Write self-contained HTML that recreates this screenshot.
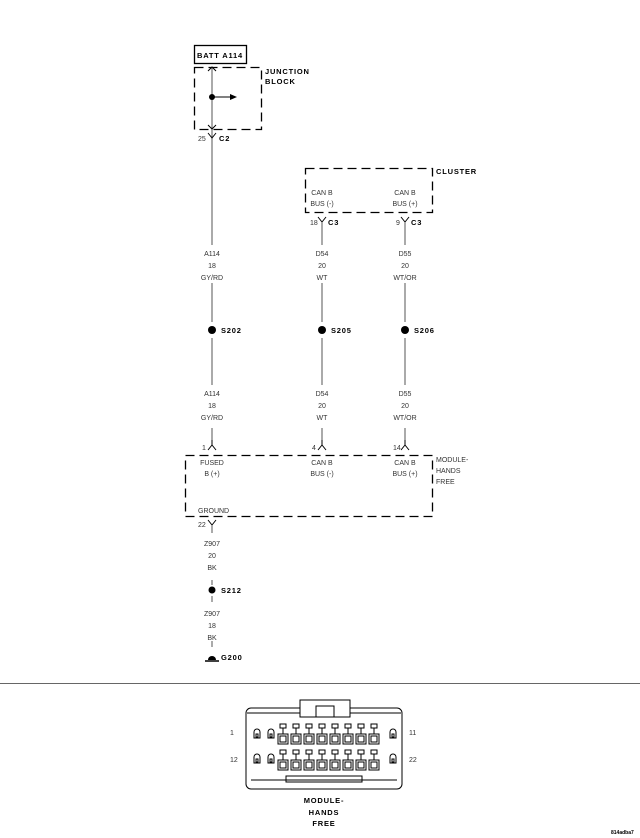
<!DOCTYPE html>
<html><head><meta charset="utf-8"><style>
html,body{margin:0;padding:0;background:#fff;}
svg{display:block;}
text{font-family:"Liberation Sans",sans-serif;}
.s{font-size:7px;fill:#333;}
.b{font-size:7.5px;font-weight:bold;fill:#000;letter-spacing:0.8px;}
</style></head><body>
<svg width="640" height="838" viewBox="0 0 640 838" xmlns="http://www.w3.org/2000/svg">
<g stroke="#000" fill="none" stroke-width="1">
<!-- BATT box -->
<rect x="194.5" y="45.5" width="52" height="18" stroke-width="1.3"/>
<!-- junction block -->
<rect x="194.5" y="67.5" width="67" height="62" stroke-dasharray="9,5" stroke-width="1.3"/>
<line x1="212" y1="67" x2="212" y2="245" stroke="#555"/>
<path d="M208,71 L212,67 L216,71" />
<path d="M208,125 L212,129 L216,125" />
<line x1="212" y1="97" x2="230" y2="97"/>
<!-- C2 Y -->
<path d="M208,133 L212,138 L216,133"/>
<!-- cluster -->
<rect x="305.5" y="168.5" width="127" height="44" stroke-dasharray="9,5" stroke-width="1.3"/>
<path d="M318,217 L322,222 L326,217"/><line x1="322" y1="222" x2="322" y2="245" stroke="#555"/>
<path d="M401,217 L405,222 L409,217"/><line x1="405" y1="222" x2="405" y2="245" stroke="#555"/>
<!-- mid wires -->
<g stroke="#555">
<line x1="212" y1="283" x2="212" y2="322"/><line x1="212" y1="338" x2="212" y2="385"/><line x1="212" y1="428" x2="212" y2="440"/>
<line x1="322" y1="283" x2="322" y2="322"/><line x1="322" y1="338" x2="322" y2="385"/><line x1="322" y1="428" x2="322" y2="440"/>
<line x1="405" y1="283" x2="405" y2="322"/><line x1="405" y1="338" x2="405" y2="385"/><line x1="405" y1="428" x2="405" y2="440"/>
</g>
<path d="M208,450 L212,445 L216,450"/><line x1="212" y1="445" x2="212" y2="440"/>
<path d="M318,450 L322,445 L326,450"/><line x1="322" y1="445" x2="322" y2="440"/>
<path d="M401,450 L405,445 L409,450"/><line x1="405" y1="445" x2="405" y2="440"/>
<!-- module -->
<rect x="185.5" y="455.5" width="247" height="61" stroke-dasharray="9,5" stroke-width="1.3"/>
<path d="M208,520 L212,525 L216,520"/><line x1="212" y1="525" x2="212" y2="533" stroke="#555"/>
<line x1="212" y1="580" x2="212" y2="585" stroke="#555"/>
<line x1="212" y1="596" x2="212" y2="602" stroke="#555"/>
<line x1="212" y1="641" x2="212" y2="647" stroke="#555"/>
<line x1="205" y1="661" x2="219" y2="661" stroke-width="1.5"/>
<!-- separator -->
<line x1="0" y1="683.5" x2="640" y2="683.5" stroke="#666"/>
</g>
<polygon points="230,94 237,97 230,100" fill="#000"/>
<g fill="#000">
<circle cx="212" cy="97" r="3"/>
<circle cx="212" cy="330" r="4"/><circle cx="322" cy="330" r="4"/><circle cx="405" cy="330" r="4"/>
<circle cx="212" cy="590" r="3.5"/>
<path d="M208,660 A4,4 0 0 1 216,660 Z"/>
</g>
<!-- labels -->
<text class="b" x="197" y="58">BATT A114</text>
<text class="b" x="265" y="74">JUNCTION</text>
<text class="b" x="265" y="84">BLOCK</text>
<text class="s" x="198" y="141">25</text><text class="b" x="219" y="141">C2</text>
<text class="b" x="436" y="174">CLUSTER</text>
<g class="s" text-anchor="middle">
<text x="322" y="195">CAN B</text><text x="322" y="206">BUS (-)</text>
<text x="405" y="195">CAN B</text><text x="405" y="206">BUS (+)</text>
<text x="212" y="256">A114</text><text x="212" y="268">18</text><text x="212" y="280">GY/RD</text>
<text x="322" y="256">D54</text><text x="322" y="268">20</text><text x="322" y="280">WT</text>
<text x="405" y="256">D55</text><text x="405" y="268">20</text><text x="405" y="280">WT/OR</text>
<text x="212" y="396">A114</text><text x="212" y="408">18</text><text x="212" y="420">GY/RD</text>
<text x="322" y="396">D54</text><text x="322" y="408">20</text><text x="322" y="420">WT</text>
<text x="405" y="396">D55</text><text x="405" y="408">20</text><text x="405" y="420">WT/OR</text>
<text x="212" y="465">FUSED</text><text x="212" y="476">B (+)</text>
<text x="322" y="465">CAN B</text><text x="322" y="476">BUS (-)</text>
<text x="405" y="465">CAN B</text><text x="405" y="476">BUS (+)</text>
<text x="212" y="546">Z907</text><text x="212" y="558">20</text><text x="212" y="570">BK</text>
<text x="212" y="616">Z907</text><text x="212" y="628">18</text><text x="212" y="640">BK</text>
</g>
<text class="s" x="310" y="225">18</text><text class="b" x="328" y="225">C3</text>
<text class="s" x="396" y="225">9</text><text class="b" x="411" y="225">C3</text>
<text class="b" x="221" y="333">S202</text><text class="b" x="331" y="333">S205</text><text class="b" x="414" y="333">S206</text>
<text class="s" x="202" y="450">1</text><text class="s" x="312" y="450">4</text><text class="s" x="393" y="450">14</text>
<text class="s" x="436" y="462">MODULE-</text><text class="s" x="436" y="473">HANDS</text><text class="s" x="436" y="484">FREE</text>
<text class="s" x="198" y="513">GROUND</text>
<text class="s" x="198" y="527">22</text>
<text class="b" x="221" y="593">S212</text>
<text class="b" x="221" y="660">G200</text>
<!-- connector -->
<g stroke="#000" fill="none" stroke-width="1">
<rect x="246" y="708" width="156" height="81" rx="5"/>
<line x1="247" y1="713" x2="401" y2="713"/>
<rect x="300" y="700" width="50" height="17" fill="#fff"/>
<rect x="316" y="706" width="18" height="11"/>
<line x1="251" y1="780" x2="397" y2="780"/>
<rect x="286" y="776" width="76" height="6"/>
<g id="row">
<rect x="278" y="734" width="10" height="10"/><rect x="280" y="736" width="6" height="6"/><rect x="280" y="724" width="6" height="4"/><line x1="283" y1="728" x2="283" y2="734"/>
</g>
<use href="#row" x="13"/><use href="#row" x="26"/><use href="#row" x="39"/><use href="#row" x="52"/><use href="#row" x="65"/><use href="#row" x="78"/><use href="#row" x="91"/>
<use href="#row" y="26"/><use href="#row" x="13" y="26"/><use href="#row" x="26" y="26"/><use href="#row" x="39" y="26"/><use href="#row" x="52" y="26"/><use href="#row" x="65" y="26"/><use href="#row" x="78" y="26"/><use href="#row" x="91" y="26"/>
<g id="sp"><path d="M254,738 v-6 a3,3 0 0 1 6,0 v6 z"/><rect x="256" y="734" width="2" height="3"/></g>
<use href="#sp" x="14"/><use href="#sp" x="136"/>
<use href="#sp" y="25"/><use href="#sp" x="14" y="25"/><use href="#sp" x="136" y="25"/>
</g>
<text class="s" x="230" y="735">1</text><text class="s" x="409" y="735">11</text>
<text class="s" x="230" y="762">12</text><text class="s" x="409" y="762">22</text>
<g class="b" text-anchor="middle"><text x="324" y="803">MODULE-</text><text x="324" y="815">HANDS</text><text x="324" y="826">FREE</text></g>
<text x="611" y="834" style="font-size:5px;font-weight:bold">814adba7</text>
</svg>
</body></html>
